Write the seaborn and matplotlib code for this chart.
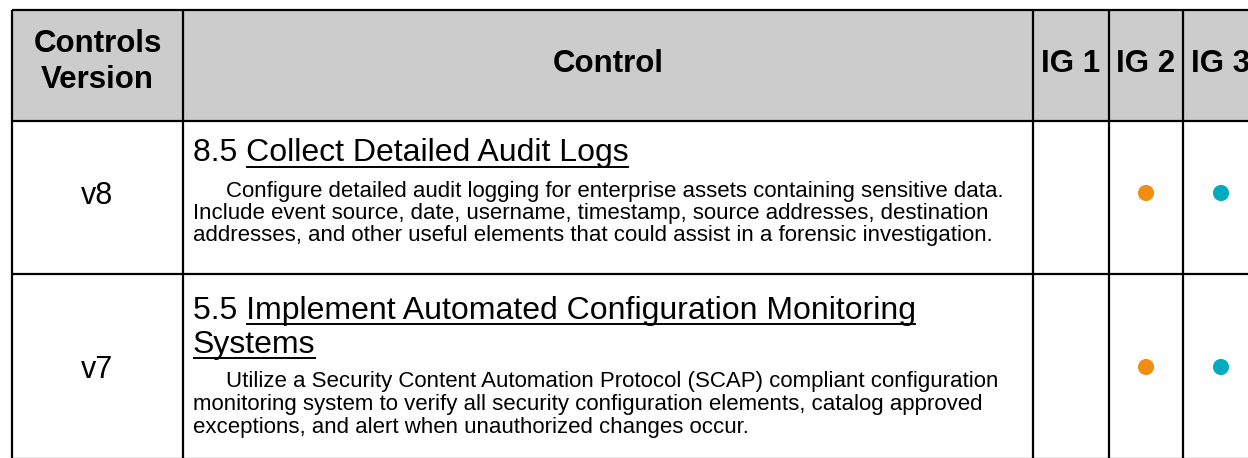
import matplotlib
matplotlib.use("Agg")
import matplotlib.pyplot as plt
from matplotlib.patches import Rectangle
import seaborn as sns
import pandas as pd

sns.set_style("white")
plt.rcParams["font.family"] = ["Liberation Sans", "DejaVu Sans"]

# table content
header_labels = [["Controls", "Version"], ["Control"], ["IG 1"], ["IG 2"], ["IG 3"]]
versions = ["v8", "v7"]
control_ids = ["8.5", "5.5"]
control_titles = [
    ["Collect Detailed Audit Logs"],
    ["Implement Automated Configuration Monitoring", "Systems"],
]
descriptions = [
    ["Configure detailed audit logging for enterprise assets containing sensitive data.",
     "Include event source, date, username, timestamp, source addresses, destination",
     "addresses, and other useful elements that could assist in a forensic investigation."],
    ["Utilize a Security Content Automation Protocol (SCAP) compliant configuration",
     "monitoring system to verify all security configuration elements, catalog approved",
     "exceptions, and alert when unauthorized changes occur."],
]
ig1 = [False, False]
ig2 = [True, True]
ig3 = [True, True]
ig_names = ["IG 1", "IG 2", "IG 3"]
ig_colors = {"IG 1": "#7F7F7F", "IG 2": "#F28C13", "IG 3": "#00ABBF"}

# layout (pixels)
W, H = 1248, 458
col_edges = [12, 183, 1033, 1109, 1183, 1262]
row_edges = [10, 121, 274, 459]
row_mid = [193, 367]
col_mid = [(a + b) / 2 for a, b in zip(col_edges[:-1], col_edges[1:])]
col_mid[-1] = 1221

fig = plt.figure(figsize=(W / 100, H / 100), dpi=100)
ax = fig.add_axes([0, 0, 1, 1])

# header background
ax.add_patch(Rectangle((col_edges[0], row_edges[0]), col_edges[-1] - col_edges[0],
                       row_edges[1] - row_edges[0], facecolor="#CCCCCC", edgecolor="none", zorder=0))

# header text
for j, lines in enumerate(header_labels):
    base = [72] if len(lines) == 1 else [52, 88]
    for ln, b in zip(lines, base):
        ax.text(col_mid[j], b, ln, ha="center", va="baseline", fontsize=22.5,
                fontweight="bold", color="black")

# dots
recs = []
for i, flags in enumerate(zip(ig1, ig2, ig3)):
    for j, f in enumerate(flags):
        if f:
            recs.append({"x": col_mid[2 + j], "y": row_mid[i], "ig": ig_names[j]})
dots = pd.DataFrame(recs)
sns.scatterplot(data=dots, x="x", y="y", hue="ig", palette=ig_colors, s=135,
                linewidth=0, legend=False, ax=ax, zorder=3)

ax.set_xlim(0, W)
ax.set_ylim(H, 0)
ax.axis("off")

renderer = fig.canvas.get_renderer()
inv = ax.transData.inverted()

title_fs = 23
desc_fs = 16
title_pitch = 34
gap = 35
desc_pitch = 22.5
x_text = 193
x_indent = 226

for i in range(len(versions)):
    mid = row_mid[i]
    ax.text(col_mid[0], mid + 10.5, versions[i], ha="center", va="baseline",
            fontsize=22, color="black")

    nt = len(control_titles[i])
    nd = len(descriptions[i])
    block = 21 + title_pitch * (nt - 1) + gap + desc_pitch * (nd - 1) + 4
    b = mid - block / 2 + 21
    for k, tl in enumerate(control_titles[i]):
        full = (control_ids[i] + " " + tl) if k == 0 else tl
        t = ax.text(x_text, b, full, ha="left", va="baseline", fontsize=title_fs, color="black")
        tmp = ax.text(0, 0, tl, fontsize=title_fs, alpha=0)
        ext = t.get_window_extent(renderer)
        w_title = tmp.get_window_extent(renderer).width
        tmp.remove()
        x1 = inv.transform((ext.x1, 0))[0]
        x0 = inv.transform((ext.x1 - w_title, 0))[0]
        ax.plot([x0, x1], [b + 5.5, b + 5.5], color="black", lw=1.4,
                solid_capstyle="butt", zorder=2)
        b += title_pitch
    b += gap - title_pitch
    for k, dl in enumerate(descriptions[i]):
        ax.text(x_indent if k == 0 else x_text, b, dl, ha="left", va="baseline",
                fontsize=desc_fs, color="black")
        b += desc_pitch

# grid lines
ax.vlines(col_edges[:-1], row_edges[0], row_edges[-1], color="black", lw=1.6, zorder=4)
ax.hlines(row_edges, col_edges[0], col_edges[-1], color="black", lw=1.6, zorder=4)

fig.savefig("out.png", dpi=100)
